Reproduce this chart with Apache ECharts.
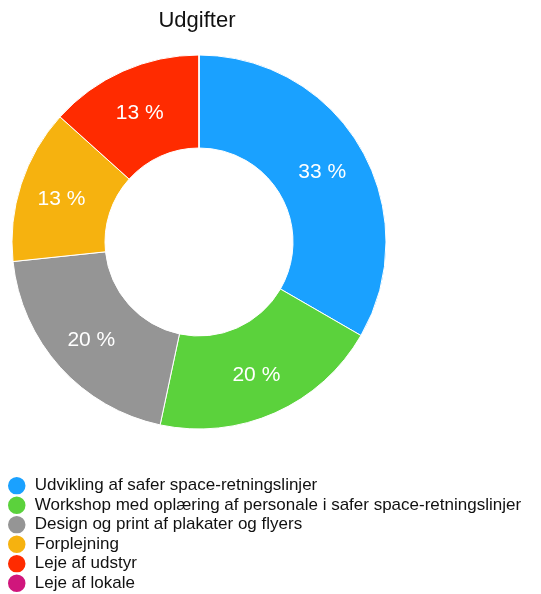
<!DOCTYPE html>
<html>
<head>
<meta charset="utf-8">
<script src="https://cdn.jsdelivr.net/npm/echarts@6/dist/echarts.min.js"></script>
<style>
html, body { margin: 0; padding: 0; background: #fff; }
#main { width: 541px; height: 594px; }
</style>
</head>
<body>
<div id="main"></div>
<script>
// data
var categories = [
  'Udvikling af safer space-retningslinjer',
  'Workshop med oplæring af personale i safer space-retningslinjer',
  'Design og print af plakater og flyers',
  'Forplejning',
  'Leje af udstyr',
  'Leje af lokale'
];
var values = [5, 3, 3, 2, 2, 0];
var colors = ['#1aa1ff', '#5bd23c', '#959595', '#f6b20f', '#ff2b00', '#d0167c'];

var chart = echarts.init(document.getElementById('main'));
chart.setOption({
  animation: false,
  color: colors,
  title: {
    text: 'Udgifter',
    left: 197,
    textAlign: 'center',
    top: 10,
    padding: 0,
    textStyle: { fontFamily: 'Liberation Sans', fontSize: 22, fontWeight: 'normal', color: '#111' }
  },
  legend: {
    orient: 'vertical',
    left: 6,
    top: 475,
    height: 200,
    padding: 0,
    icon: 'circle',
    itemWidth: 26,
    itemHeight: 19.5,
    itemGap: -2,
    selectedMode: false,
    textStyle: { fontFamily: 'Liberation Sans', fontSize: 17, lineHeight: 17, color: '#111' },
    data: categories
  },
  series: [{
    type: 'pie',
    center: [199, 242],
    radius: [94, 187],
    startAngle: 90,
    clockwise: true,
    avoidLabelOverlap: false,
    itemStyle: { borderColor: '#fff', borderWidth: 1 },
    label: {
      show: true,
      position: 'inside',
      offset: [-1, 2],
      formatter: function (p) { return p.value > 0 ? Math.round(p.percent) + ' %' : ''; },
      color: '#fff',
      fontFamily: 'Liberation Sans',
      fontSize: 21
    },
    labelLine: { show: false },
    data: categories.map(function (c, i) { return { name: c, value: values[i] }; })
  }]
});
</script>
</body>
</html>
